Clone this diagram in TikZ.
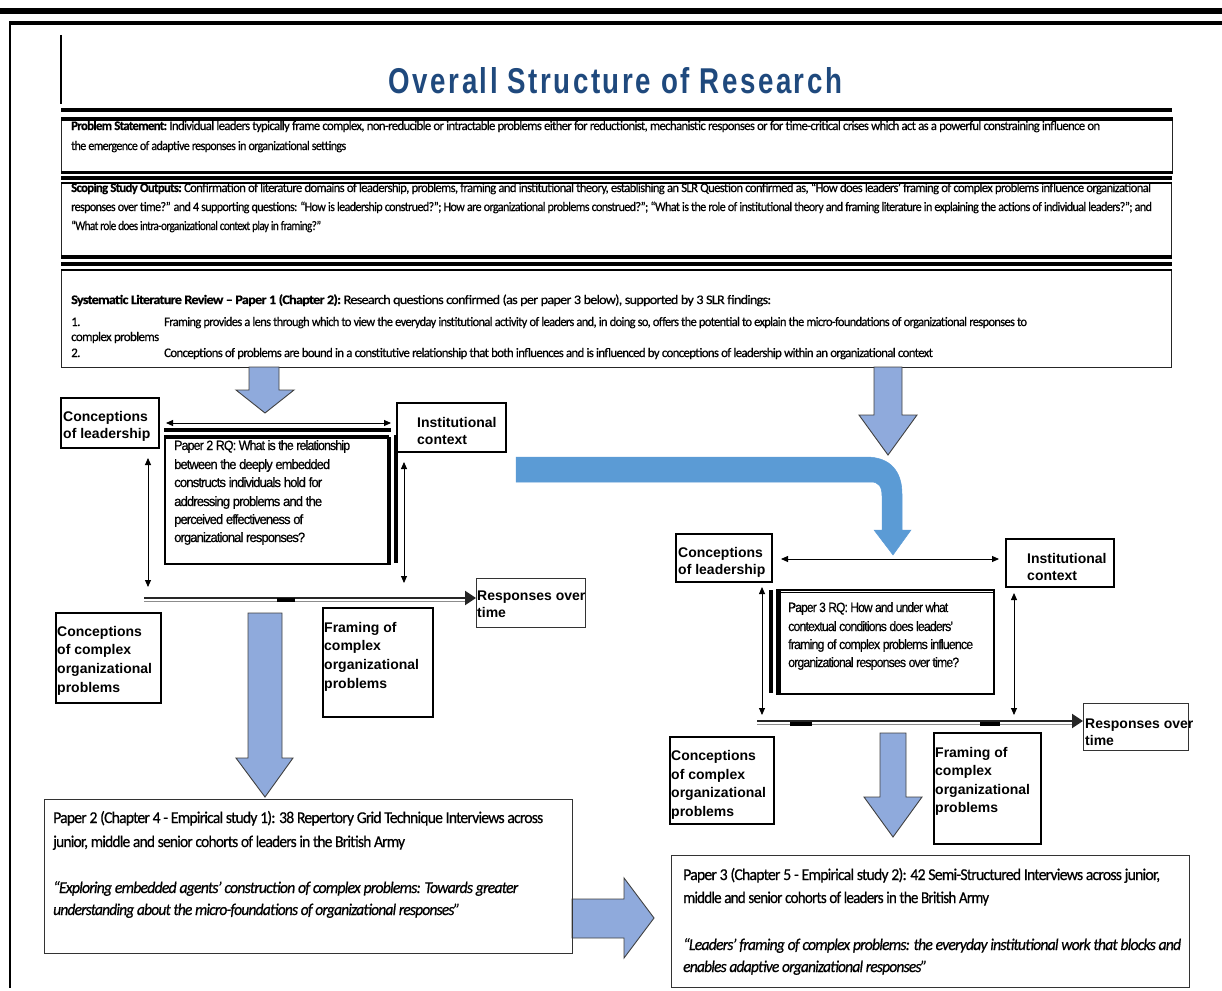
\documentclass[tikz,border=0pt]{standalone}
\usepackage{fontspec}
\usepackage{graphicx}
\setmainfont{Carlito}
\newfontfamily\arialf{Liberation Sans}
\newfontfamily\bodyf[LetterSpace=-5,FakeBold=0.6]{Carlito}
\newfontfamily\rqf[LetterSpace=-7,FakeBold=0.6]{Liberation Sans}
\newfontfamily\titlef[LetterSpace=9]{Liberation Sans}
\usetikzlibrary{arrows.meta}

\definecolor{titleblue}{RGB}{31,73,125}
\definecolor{paleblue}{RGB}{143,170,220}
\definecolor{midblue}{RGB}{91,155,213}
\definecolor{edgegray}{RGB}{64,64,64}

% squeeze a line of text to a given width, keeping its height
\newcommand{\fitline}[2]{\resizebox{#1}{\height}{#2}}

\tikzset{
  panel/.style={draw=black!85, line width=1.1pt, inner sep=0pt, anchor=north west},
  lblbox/.style={draw=black, line width=1.8pt, inner sep=0pt, anchor=north west},
  thinbox/.style={draw=black!80, line width=1.2pt, inner sep=0pt, anchor=north west},
  body/.style={anchor=base west, inner sep=0pt, font=\bodyf\fontsize{13}{15}\selectfont},
  paper/.style={anchor=base west, inner sep=0pt, font=\bodyf\fontsize{16.5}{19}\selectfont},
  lbl/.style={anchor=base west, inner sep=0pt, font=\arialf\bfseries\fontsize{14}{16}\selectfont},
  rqtext/.style={anchor=base west, inner sep=0pt, font=\rqf\fontsize{13.5}{15}\selectfont},
  link/.style={line width=0.9pt, {Triangle[length=7pt,width=6pt]}-{Triangle[length=7pt,width=6pt]}},
  bigarrow/.style={fill=paleblue, draw=edgegray, line width=0.9pt, line join=miter},
  bentarrow/.style={fill=midblue, draw=midblue, line width=0.5pt},
}

\begin{document}
\begin{tikzpicture}[x=1pt,y=-1pt]
\useasboundingbox (0,0) rectangle (1222,990);

% ---------- page frame ----------
\draw[line width=6pt] (0,11) -- (1222,11);
\draw[line width=4pt] (9,23) -- (1222,23);
\draw[line width=2pt] (10,21) -- (10,988);
\draw[line width=2pt] (61,35) -- (61,104);

% ---------- title ----------
\node[anchor=base, inner sep=0pt, text=titleblue] (title) at (615.5,93)
  {\resizebox{453pt}{26pt}{\titlef\bfseries Overall Structure of Research}};

% ---------- header panels ----------
\node[panel, minimum width=1111pt, minimum height=52pt] (prob) at (61,119) {};
\node[panel, minimum width=1110pt, minimum height=73pt] (scope) at (61,183) {};
\node[panel, minimum width=1110pt, minimum height=97pt] (slr) at (61,270) {};

\node[body] (p1) at (71,130) {\fitline{1029pt}{\textbf{Problem Statement:} Individual leaders typically frame complex, non-reducible or intractable problems either for reductionist, mechanistic responses or for time-critical crises which act as a powerful constraining influence on}};
\node[body] (p2) at (71,150) {\fitline{275pt}{the emergence of adaptive responses in organizational settings}};

\node[body] (s1) at (71,192) {\fitline{1080pt}{\textbf{Scoping Study Outputs:} Confirmation of literature domains of leadership, problems, framing and institutional theory, establishing an SLR Question confirmed as, “How does leaders’ framing of complex problems influence organizational}};
\node[body] (s2) at (71,211) {\fitline{1081pt}{responses over time?” and 4 supporting questions: “How is leadership construed?”; How are organizational problems construed?”; “What is the role of institutional theory and framing literature in explaining the actions of individual leaders?”; and}};
\node[body] (s3) at (71,230) {\fitline{250pt}{“What role does intra-organizational context play in framing?”}};

\node[body] (r1) at (71,304) {\fitline{700pt}{\textbf{Systematic Literature Review – Paper 1 (Chapter 2):} Research questions confirmed (as per paper 3 below), supported by 3 SLR findings:}};
\node[body] (r2n) at (71,326) {1.};
\node[body] (r2) at (164,326) {\fitline{863pt}{Framing provides a lens through which to view the everyday institutional activity of leaders and, in doing so, offers the potential to explain the micro-foundations of organizational responses to}};
\node[body] (r3) at (71,341) {\fitline{88pt}{complex problems}};
\node[body] (r4n) at (71,357) {2.};
\node[body] (r4) at (164,357) {\fitline{769pt}{Conceptions of problems are bound in a constitutive relationship that both influences and is influenced by conceptions of leadership within an organizational context}};

% heavy rules over the header panels
\draw[line width=4pt] (61,110) -- (1172,110);
\draw[line width=4pt] (prob.north west) -- (prob.north east);
\draw[line width=3pt] (prob.south west) -- (prob.south east);
\draw[line width=4pt] (61,178) -- (1172,178);
\draw[line width=2.5pt] (scope.north west) -- (scope.north east);
\draw[line width=4pt] (scope.south west) -- (scope.south east);
\draw[line width=4pt] (61,264) -- (1172,264);
\draw[line width=2pt] (slr.north west) -- (slr.north east);

% ---------- block arrows ----------
\filldraw[bigarrow] (249,367) -- (279,367) -- (279,390) -- (294,390) -- (265,413) -- (236,390) -- (249,390) -- cycle;
\filldraw[bigarrow] (874,367) -- (902,367) -- (902,415) -- (917,415) -- (888,455) -- (859,415) -- (874,415) -- cycle;
\filldraw[bentarrow] (516,457) -- (866,457) .. controls (890,457) and (902,471) .. (902,494)
  -- (902,530) -- (911,530) -- (893,555) -- (874,530) -- (882,530) -- (882,496)
  .. controls (882,487) and (879,482) .. (871,482) -- (516,482) -- cycle;
\filldraw[bigarrow] (248,613) -- (282,613) -- (282,758) -- (293,758) -- (265,797) -- (236,758) -- (248,758) -- cycle;
\filldraw[bigarrow] (880,733) -- (906,733) -- (906,797) -- (922,797) -- (893,837) -- (864,797) -- (880,797) -- cycle;
\filldraw[bigarrow] (572,899) -- (624,899) -- (624,878) -- (654,918) -- (624,958) -- (624,938) -- (572,938) -- cycle;

% ---------- left model (Paper 2) ----------
\node[lblbox, minimum width=98pt, minimum height=50pt] (cl1) at (60,397) {};
\node[lblbox, minimum width=109pt, minimum height=49pt] (ic1) at (396,402) {};
\node[lblbox, minimum width=223pt, minimum height=126pt] (rq1) at (164,437) {};
\node[thinbox, minimum width=109pt, minimum height=49pt] (resp1) at (476,578) {};
\node[lblbox, minimum width=105pt, minimum height=90pt] (cp1) at (55,612) {};
\node[lblbox, minimum width=110pt, minimum height=109pt] (fr1) at (322,607) {};

\node[lbl] (cl1a) at (63,421) {Conceptions};
\node[lbl] (cl1b) at (63,438) {of leadership};
\node[lbl] (ic1a) at (417,427) {Institutional};
\node[lbl] (ic1b) at (417,444) {context};
\node[lbl] (resp1a) at (477,600) {Responses over};
\node[lbl] (resp1b) at (477,617) {time};
\node[lbl] (cp1a) at (57,636) {Conceptions};
\node[lbl] (cp1b) at (57,654) {of complex};
\node[lbl] (cp1c) at (57,673) {organizational};
\node[lbl] (cp1d) at (57,692) {problems};
\node[lbl] (fr1a) at (324,632) {Framing of};
\node[lbl] (fr1b) at (324,650) {complex};
\node[lbl] (fr1c) at (324,669) {organizational};
\node[lbl] (fr1d) at (324,688) {problems};

\node[rqtext] (q1a) at (174,450) {\fitline{176pt}{Paper 2 RQ: What is the relationship}};
\node[rqtext] (q1b) at (174,469) {\fitline{156pt}{between the deeply embedded}};
\node[rqtext] (q1c) at (174,487) {\fitline{148pt}{constructs individuals hold for}};
\node[rqtext] (q1d) at (174,506) {\fitline{148pt}{addressing problems and the}};
\node[rqtext] (q1e) at (174,524) {\fitline{129pt}{perceived effectiveness of}};
\node[rqtext] (q1f) at (174,542) {\fitline{131pt}{organizational responses?}};

\draw[line width=4pt] (164,430) -- (391,430);
\draw[line width=4pt] (rq1.north west) -- (rq1.north east);
\draw[line width=4pt] (rq1.north east) -- (rq1.south east);
\draw[line width=4pt] (396,435) -- (396,563);

\coordinate (h1a) at (166,423);
\coordinate (h1b) at (391,423);
\coordinate (v1a) at (148,458);
\coordinate (v1b) at (148,587);
\coordinate (v2a) at (404,462);
\coordinate (v2b) at (404,583);
\draw[link] (h1a) -- (h1b);
\draw[link] (v1a) -- (v1b);
\draw[link] (v2a) -- (v2b);

\coordinate (o1a) at (144,600);
\draw[line width=1.5pt, black!45] ([yshift=-1.5pt]o1a) -- ([yshift=-1.5pt]466,600);
\draw[line width=2.2pt, black!85, -{Triangle[length=11pt,width=14pt]}] ([yshift=2pt]o1a) -- ([yshift=2pt]resp1.west |- o1a);
\draw[line width=4pt] (277,600) -- (295,600);

% ---------- right model (Paper 3) ----------
\node[lblbox, minimum width=96pt, minimum height=48pt] (cl2) at (675,533) {};
\node[lblbox, minimum width=108pt, minimum height=48pt] (ic2) at (1005,538) {};
\node[lblbox, minimum width=215pt, minimum height=104pt] (rq2) at (778,589) {};
\node[thinbox, minimum width=105pt, minimum height=47pt] (resp2) at (1083,703) {};
\node[lblbox, minimum width=104pt, minimum height=87pt] (cp2) at (669,736) {};
\node[lblbox, minimum width=107pt, minimum height=111pt] (fr2) at (933,732) {};

\node[lbl] (cl2a) at (678,557) {Conceptions};
\node[lbl] (cl2b) at (678,574) {of leadership};
\node[lbl] (ic2a) at (1027,563) {Institutional};
\node[lbl] (ic2b) at (1027,580) {context};
\node[lbl] (resp2a) at (1085,728) {Responses over};
\node[lbl] (resp2b) at (1085,745) {time};
\node[lbl] (cp2a) at (671,760) {Conceptions};
\node[lbl] (cp2b) at (671,779) {of complex};
\node[lbl] (cp2c) at (671,797) {organizational};
\node[lbl] (cp2d) at (671,816) {problems};
\node[lbl] (fr2a) at (935,757) {Framing of};
\node[lbl] (fr2b) at (935,775) {complex};
\node[lbl] (fr2c) at (935,794) {organizational};
\node[lbl] (fr2d) at (935,812) {problems};

\node[rqtext] (q2a) at (788,612) {\fitline{160pt}{Paper 3 RQ: How and under what}};
\node[rqtext] (q2b) at (788,631) {\fitline{165pt}{contextual conditions does leaders’}};
\node[rqtext] (q2c) at (788,649) {\fitline{185pt}{framing of complex problems influence}};
\node[rqtext] (q2d) at (788,667) {\fitline{171pt}{organizational responses over time?}};

\draw[line width=1pt] ([yshift=-3pt]rq2.north west) -- ([yshift=-3pt]rq2.north east);
\draw[line width=5pt] (rq2.north west) -- (rq2.south west);
\draw[line width=4pt] (770.5,590) -- (770.5,693);

\coordinate (h2a) at (781,559);
\coordinate (h2b) at (999,559);
\coordinate (v3a) at (762,587);
\coordinate (v3b) at (762,715);
\coordinate (v4a) at (1014,593);
\coordinate (v4b) at (1014,715);
\draw[link] (h2a) -- (h2b);
\draw[link] (v3a) -- (v3b);
\draw[link] (v4a) -- (v4b);

\coordinate (o2a) at (757,723);
\draw[line width=1.5pt, black!45] ([yshift=-1.5pt]o2a) -- ([yshift=-1.5pt]1074,723);
\draw[line width=2.2pt, black!85, -{Triangle[length=11pt,width=14pt]}] ([yshift=2pt]o2a) -- ([yshift=2pt]resp2.west |- o2a);
\draw[line width=4pt] (790,724) -- (812,724);
\draw[line width=4pt] (980,724) -- (1000,724);

% ---------- study boxes ----------
\node[thinbox, minimum width=528pt, minimum height=154pt] (paper2) at (43.5,799) {};
\node[thinbox, minimum width=518pt, minimum height=132pt] (paper3) at (671,855) {};

\node[paper] (e1a) at (53,823) {\fitline{490pt}{Paper 2 (Chapter 4 - Empirical study 1): 38 Repertory Grid Technique Interviews across}};
\node[paper] (e1b) at (53,847) {\fitline{352pt}{junior, middle and senior cohorts of leaders in the British Army}};
\node[paper] (e1c) at (53,893) {\fitline{465pt}{\itshape “Exploring embedded agents’ construction of complex problems: Towards greater}};
\node[paper] (e1d) at (53,915) {\fitline{407pt}{\itshape understanding about the micro-foundations of organizational responses”}};

\node[paper] (e2a) at (683,880) {\fitline{477pt}{Paper 3 (Chapter 5 - Empirical study 2): 42 Semi-Structured Interviews across junior,}};
\node[paper] (e2b) at (683,903) {\fitline{306pt}{middle and senior cohorts of leaders in the British Army}};
\node[paper] (e2c) at (683,950) {\fitline{498pt}{\itshape “Leaders’ framing of complex problems: the everyday institutional work that blocks and}};
\node[paper] (e2d) at (683,972) {\fitline{244pt}{\itshape enables adaptive organizational responses”}};

\end{tikzpicture}
\end{document}
